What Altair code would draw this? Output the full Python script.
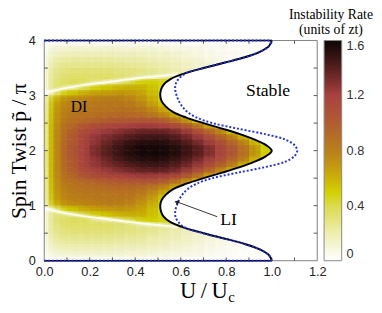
import altair as alt
import pandas as pd

# ---------------- data ----------------
# heat-map cell edges (U/Uc) and rows of the lower half (p/pi from 0 to 2)
x_edges = [0.0, 0.02, 0.04, 0.07, 0.10, 0.15, 0.20, 0.25, 0.30, 0.35, 0.40, 0.45,
           0.50, 0.55, 0.60, 0.65, 0.70, 0.75, 0.80, 0.85, 0.90, 0.95, 1.0]
y_edges = [0.0, 0.1, 0.2, 0.3, 0.4, 0.5, 0.6, 0.7, 0.8, 0.9, 1.0,
           1.1, 1.2, 1.3, 1.4, 1.5, 1.6, 1.7, 1.8, 1.9, 2.0]
rate_rows = [
    [0.01, 0.03, 0.04, 0.05, 0.05, 0.05, 0.05, 0.05, 0.05, 0.05, 0.05, 0.04, 0.04, 0.03, 0.03, 0.02, 0.02, 0.01, 0.01, 0.01, 0.0, 0.0],
    [0.02, 0.07, 0.10, 0.11, 0.12, 0.12, 0.12, 0.12, 0.12, 0.11, 0.11, 0.10, 0.09, 0.08, 0.07, 0.06, 0.04, 0.03, 0.02, 0.01, 0.01, 0.0],
    [0.04, 0.11, 0.15, 0.17, 0.18, 0.18, 0.18, 0.18, 0.17, 0.17, 0.16, 0.15, 0.14, 0.12, 0.10, 0.08, 0.06, 0.05, 0.03, 0.02, 0.01],
    [0.05, 0.14, 0.20, 0.22, 0.23, 0.23, 0.23, 0.23, 0.22, 0.21, 0.21, 0.19, 0.17, 0.15, 0.13, 0.11, 0.08, 0.06, 0.04, 0.02],
    [0.05, 0.16, 0.23, 0.26, 0.27, 0.27, 0.27, 0.27, 0.26, 0.25, 0.24, 0.22, 0.20, 0.18, 0.15, 0.12, 0.10, 0.07],
    [0.06, 0.19, 0.26, 0.29, 0.31, 0.31, 0.31, 0.31, 0.30, 0.29, 0.28, 0.26, 0.23, 0.20, 0.17, 0.14, 0.12],
    [0.06, 0.19, 0.28, 0.32, 0.34, 0.34, 0.34, 0.34, 0.32, 0.30, 0.26, 0.25, 0.28, 0.33],
    [0.06, 0.20, 0.30, 0.34, 0.36, 0.36, 0.30, 0.28, 0.32, 0.40, 0.48, 0.50, 0.47, 0.42],
    [0.06, 0.20, 0.30, 0.30, 0.30, 0.40, 0.48, 0.53, 0.58, 0.60, 0.60, 0.55, 0.47],
    [0.03, 0.15, 0.30, 0.45, 0.53, 0.60, 0.65, 0.68, 0.70, 0.69, 0.65, 0.57, 0.47],
    [0.10, 0.40, 0.58, 0.68, 0.74, 0.77, 0.79, 0.80, 0.80, 0.78, 0.72, 0.62, 0.50],
    [0.12, 0.45, 0.64, 0.74, 0.79, 0.81, 0.83, 0.84, 0.84, 0.83, 0.78, 0.68, 0.55],
    [0.12, 0.47, 0.66, 0.76, 0.81, 0.84, 0.85, 0.86, 0.87, 0.87, 0.84, 0.77, 0.65, 0.52],
    [0.13, 0.48, 0.68, 0.78, 0.84, 0.87, 0.89, 0.91, 0.92, 0.92, 0.91, 0.86, 0.78, 0.64, 0.50],
    [0.14, 0.48, 0.69, 0.80, 0.87, 0.92, 0.96, 0.99, 1.02, 1.04, 1.05, 1.05, 1.00, 0.90, 0.74, 0.56],
    [0.15, 0.50, 0.71, 0.84, 0.93, 1.03, 1.10, 1.14, 1.17, 1.20, 1.22, 1.22, 1.20, 1.14, 1.04, 0.88, 0.65],
    [0.15, 0.50, 0.72, 0.85, 0.97, 1.10, 1.18, 1.23, 1.28, 1.32, 1.36, 1.37, 1.36, 1.32, 1.24, 1.12, 0.96, 0.78, 0.58, 0.45],
    [0.15, 0.50, 0.72, 0.86, 1.00, 1.15, 1.24, 1.30, 1.35, 1.40, 1.44, 1.46, 1.45, 1.41, 1.34, 1.24, 1.12, 0.98, 0.82, 0.62, 0.45],
    [0.15, 0.50, 0.72, 0.87, 1.00, 1.15, 1.25, 1.34, 1.42, 1.48, 1.52, 1.53, 1.52, 1.48, 1.42, 1.33, 1.22, 1.10, 0.96, 0.80, 0.60, 0.45],
    [0.15, 0.50, 0.72, 0.88, 1.02, 1.17, 1.29, 1.38, 1.46, 1.52, 1.56, 1.57, 1.56, 1.53, 1.47, 1.40, 1.30, 1.18, 1.05, 0.90, 0.72, 0.50],
]

# stability boundaries, U/Uc as a function of spin twist
curve_y = [0.0, 0.1, 0.2, 0.3, 0.4, 0.5, 0.6, 0.7, 0.8, 0.9, 1.0, 1.1, 1.2, 1.3, 1.4, 1.5,
           1.6, 1.7, 1.8, 1.9, 2.0, 2.1, 2.2, 2.3, 2.4, 2.5, 2.6, 2.7, 2.8, 2.9, 3.0, 3.1,
           3.2, 3.3, 3.4, 3.5, 3.6, 3.7, 3.8, 3.9, 4.0]
black_x = [1.0, 0.988, 0.95, 0.885, 0.795, 0.70, 0.615, 0.555, 0.525, 0.513, 0.51, 0.516,
           0.535, 0.567, 0.625, 0.70, 0.782, 0.86, 0.925, 0.975, 1.0, 0.975, 0.925, 0.86,
           0.782, 0.70, 0.625, 0.567, 0.535, 0.516, 0.51, 0.513, 0.525, 0.555, 0.615, 0.70,
           0.795, 0.885, 0.95, 0.988, 1.0]
blue_x = [1.0, 0.988, 0.95, 0.885, 0.795, 0.70, 0.62, 0.59, 0.577, 0.576, 0.582, 0.592,
          0.607, 0.63, 0.67, 0.74, 0.85, 0.97, 1.06, 1.10, 1.112, 1.10, 1.06, 0.97, 0.85,
          0.74, 0.67, 0.63, 0.607, 0.592, 0.582, 0.576, 0.577, 0.59, 0.62, 0.70, 0.795,
          0.885, 0.95, 0.988, 1.0]
x_max = 1.2

# zero-rate (white) ridges between the two instability branches
zero_x = [0.0, 0.10, 0.17, 0.25, 0.34, 0.42, 0.51, 0.59]
zero_y_low = [0.95, 0.86, 0.81, 0.77, 0.72, 0.68, 0.645, 0.61]
zero_y_high = [3.05, 3.14, 3.19, 3.23, 3.28, 3.32, 3.355, 3.39]

edge_x = [0.0, 1.0]
edge_y = [0.0, 4.0]
x_tick_vals = [0.1, 0.2, 0.3, 0.4, 0.5, 0.6, 0.7, 0.8, 0.9, 1.0, 1.1]
y_tick_vals = [0.5, 1.0, 1.5, 2.0, 2.5, 3.0, 3.5]
x_labels = [0.0, 0.2, 0.4, 0.6, 0.8, 1.0, 1.2]
y_labels = [0, 1, 2, 3, 4]
cbar_labels = [0, 0.4, 0.8, 1.2, 1.6]

cmap_vals = [0.0, 0.1, 0.2, 0.3, 0.4, 0.5, 0.65, 0.8, 1.0, 1.2, 1.35, 1.5, 1.6]
cmap_cols = ["#ffffff", "#f6f6d8", "#eeeeb0", "#e4e47e", "#dbdb4c", "#d2d000", "#c6a20c",
             "#ba7f1a", "#b25c32", "#a84242", "#6a2626", "#301212", "#0c0606"]

# ---------------- tables ----------------
cells = []
for r, row in enumerate(rate_rows):
    y0, y1 = y_edges[r], y_edges[r + 1]
    for c, v in enumerate(row):
        x0, x1 = x_edges[c], x_edges[c + 1]
        cells.append(dict(x0=x0, x1=x1, y0=y0, y1=y1, rate=v))
        cells.append(dict(x0=x0, x1=x1, y0=4 - y1, y1=4 - y0, rate=v))
cells_df = pd.DataFrame(cells)

curve_df = pd.DataFrame({"y": curve_y, "black": black_x, "blue": blue_x,
                         "right": [x_max] * len(curve_y)})
zero_df = pd.DataFrame({
    "x": zero_x + zero_x,
    "y": zero_y_low + zero_y_high,
    "branch": ["low"] * len(zero_x) + ["high"] * len(zero_x),
})
edge_df = pd.DataFrame([dict(x=xx, y=yy, side=str(yy)) for yy in edge_y for xx in edge_x])
xt_df = pd.DataFrame({"t": x_tick_vals})
yt_df = pd.DataFrame({"t": y_tick_vals})

W, H = 279, 225
SERIF = "Liberation Serif"
SANS = "Liberation Sans"

xs = alt.Scale(domain=[0, 1.2], nice=False, zero=False)
ys = alt.Scale(domain=[0, 4], nice=False, zero=False)
cscale = alt.Scale(domain=cmap_vals, range=cmap_cols, interpolate="rgb", clamp=True)

xaxis = alt.Axis(values=x_labels, format=".1f", domain=False, ticks=False, grid=False,
                 labelFont=SANS, labelFontSize=13, labelColor="#222222", labelPadding=5,
                 labelFlush=False, title="U\u2009/\u2009U", titleFont=SERIF, titleFontSize=23,
                 titleFontWeight="normal", titleColor="black", titleAlign="right",
                 titleX=187, titleY=38, titleBaseline="alphabetic")
yaxis = alt.Axis(values=y_labels, format="d", domain=False, ticks=False, grid=False,
                 labelFont=SANS, labelFontSize=13, labelColor="#222222", labelPadding=9,
                 title="Spin Twist p\u0303 / \u03c0", titleFont=SERIF, titleFontSize=22,
                 titleFontWeight="normal", titleColor="black", titleAngle=-90,
                 titleX=-19, titleY=112.5, titleAlign="center", titleBaseline="alphabetic")

legend = alt.Legend(type="gradient", orient="none", legendX=286, legendY=0,
                    direction="vertical", title=None,
                    gradientLength=225, gradientThickness=18, gradientStrokeColor="#888888",
                    gradientStrokeWidth=1, values=cbar_labels, format="~g",
                    labelFont=SANS, labelFontSize=13, labelColor="#333333", labelOffset=5,
                    padding=0)

heat = alt.Chart(cells_df).mark_rect(clip=True).encode(
    x=alt.X("x0:Q", scale=xs, axis=xaxis),
    x2="x1:Q",
    y=alt.Y("y0:Q", scale=ys, axis=yaxis),
    y2="y1:Q",
    color=alt.Color("rate:Q", scale=cscale, legend=legend),
)

# softening copies of the same cells (equal-weight average of shifted copies)
offsets = [(dx, dy) for dx in (-5, 0, 5) for dy in (-2, 0, 2) if (dx, dy) != (0, 0)]
soft_layers = []
for k, (dx, dy) in enumerate(offsets):
    soft_layers.append(
        alt.Chart(cells_df).mark_rect(clip=True, opacity=1.0 / (k + 2),
                                      xOffset=dx, yOffset=dy).encode(
            x="x0:Q", x2="x1:Q", y="y0:Q", y2="y1:Q",
            color=alt.Color("rate:Q", scale=cscale, legend=None),
        )
    )

zero_glow = alt.Chart(zero_df).mark_line(color="white", strokeWidth=5, opacity=0.3,
                                         interpolate="monotone", clip=True).encode(
    x="x:Q", y="y:Q", detail="branch:N")
zero_core = alt.Chart(zero_df).mark_line(color="white", strokeWidth=2, opacity=0.85,
                                         interpolate="monotone", clip=True).encode(
    x="x:Q", y="y:Q", detail="branch:N")

mask = alt.Chart(curve_df).mark_area(orient="horizontal", interpolate="catmull-rom",
                                     color="white", opacity=1, clip=True).encode(
    y=alt.Y("y:Q"), x=alt.X("black:Q", stack=None), x2="right:Q")

GREY = "#808080"
one = pd.DataFrame({"k": [0]})
frame_l = alt.Chart(one).mark_rule(color=GREY).encode(x=alt.datum(0), y=alt.datum(0), y2=alt.datum(4))
frame_r = alt.Chart(one).mark_rule(color=GREY).encode(x=alt.datum(1.2), y=alt.datum(0), y2=alt.datum(4))
frame_t = alt.Chart(one).mark_rule(color=GREY).encode(y=alt.datum(4), x=alt.datum(0), x2=alt.datum(1.2))
frame_b = alt.Chart(one).mark_rule(color=GREY).encode(y=alt.datum(0), x=alt.datum(0), x2=alt.datum(1.2))

tick_bot = alt.Chart(xt_df).mark_rule(color="#555555", strokeWidth=1).encode(
    x="t:Q", y=alt.datum(0), y2=alt.datum(0.06))
tick_top = alt.Chart(xt_df).mark_rule(color="#555555", strokeWidth=1).encode(
    x="t:Q", y=alt.datum(3.94), y2=alt.datum(4))
tick_left = alt.Chart(yt_df).mark_rule(color="#555555", strokeWidth=1).encode(
    y="t:Q", x=alt.datum(0), x2=alt.datum(0.016))
tick_right = alt.Chart(yt_df).mark_rule(color="#555555", strokeWidth=1).encode(
    y="t:Q", x=alt.datum(1.184), x2=alt.datum(1.2))

edges_black = alt.Chart(edge_df).mark_line(color="black", strokeWidth=1.5).encode(
    x="x:Q", y="y:Q", detail="side:N")
edges_blue = alt.Chart(edge_df).mark_line(color="#1f2fe6", strokeWidth=2,
                                          strokeDash=[2, 2]).encode(
    x="x:Q", y="y:Q", detail="side:N")

black_line = alt.Chart(curve_df).mark_line(color="black", strokeWidth=2,
                                           interpolate="catmull-rom").encode(
    x="black:Q", y="y:Q", order="y:Q")
blue_line = alt.Chart(curve_df).mark_line(color="#1f2fe6", strokeWidth=2, strokeDash=[2, 2],
                                          interpolate="catmull-rom").encode(
    x="blue:Q", y="y:Q", order="y:Q")

labels_df = pd.DataFrame({
    "x": [0.153, 0.984, 0.81],
    "y": [2.71, 2.99, 0.65],
    "text": ["DI", "Stable", "LI"],
    "size": [16, 18, 18],
})
labels = alt.Chart(labels_df).mark_text(font=SERIF, baseline="alphabetic", align="center",
                                        color="black").encode(
    x="x:Q", y="y:Q", text="text:N", size=alt.Size("size:Q", scale=None, legend=None))

arrow_df = pd.DataFrame({"x": [0.76, 0.588], "y": [0.80, 1.062]})
arrow_line = alt.Chart(arrow_df).mark_line(color="#333333", strokeWidth=1).encode(
    x="x:Q", y="y:Q")
head_df = pd.DataFrame({"x": [0.582], "y": [1.066]})
arrow_head = alt.Chart(head_df).mark_point(shape="triangle-up", angle=291, size=28,
                                           filled=True, color="#222222", opacity=1).encode(
    x="x:Q", y="y:Q")

sub_df = pd.DataFrame({"t": ["c"]})
subscript = alt.Chart(sub_df).mark_text(font=SERIF, fontSize=15, align="left",
                                        baseline="alphabetic", color="black").encode(
    text="t:N", x=alt.value(188), y=alt.value(267))

chart = alt.layer(
    heat, *soft_layers, zero_glow, zero_core, mask,
    frame_l, frame_r, frame_t, frame_b, tick_bot, tick_top, tick_left, tick_right,
    black_line, edges_black, edges_blue, blue_line,
    labels, arrow_line, arrow_head, subscript,
).resolve_scale(size="independent").properties(
    width=W, height=H,
    padding={"left": 37, "top": 30, "right": 58, "bottom": 42},
    autosize=alt.AutoSizeParams(type="none"),
    title=alt.TitleParams(text=["Instability Rate", "(units of zt)"], anchor="end",
                          align="center", dx=14, dy=8, offset=6, frame="group", font=SERIF,
                          fontSize=14, fontWeight="normal", lineHeight=15, color="black"),
    background="white",
).configure_view(strokeWidth=0)

chart.save("out.html", embed_options={"renderer": "svg", "actions": False})
